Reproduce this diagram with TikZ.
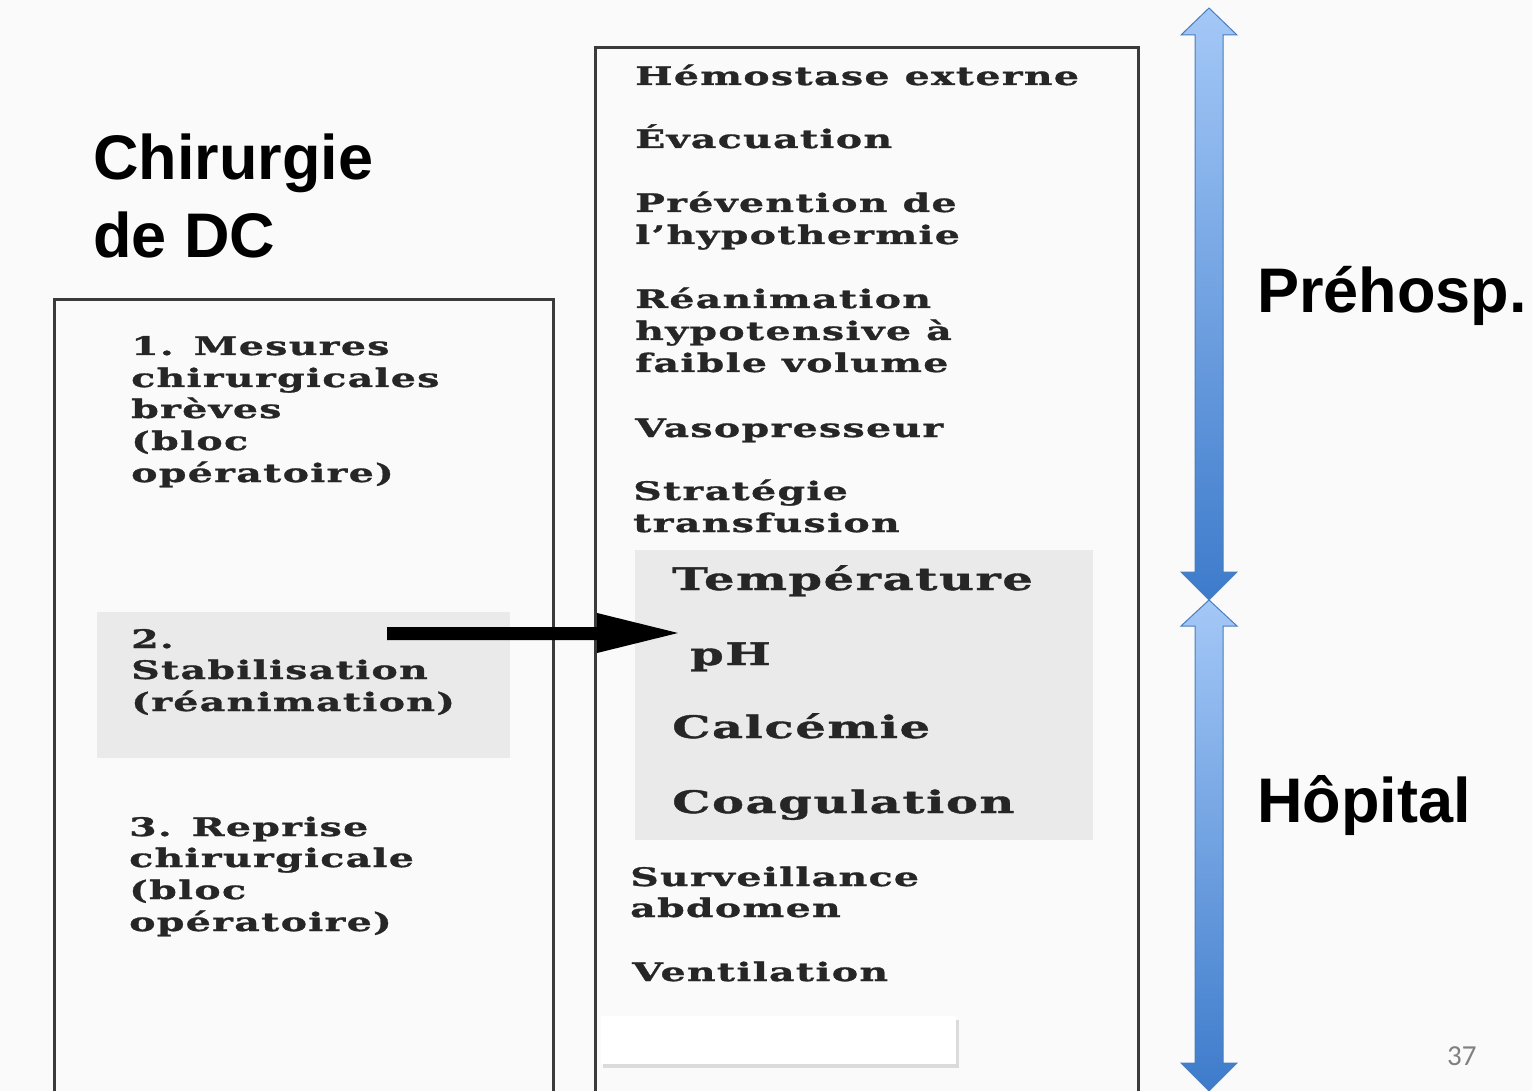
\documentclass[tikz,border=0pt]{standalone}
\usepackage{fontspec}
\setmainfont{Liberation Sans}
\newfontfamily\hdfont{Liberation Sans}
\newfontfamily\numfont{Carlito}
\newfontfamily\tfont[FakeStretch=1.55,LetterSpace=5,FakeBold=1.2]{DejaVu Serif Bold}
\usetikzlibrary{shadows}
\definecolor{boxline}{HTML}{3A3A3A}
\definecolor{panelgray}{HTML}{EAEAEA}
\definecolor{bgcol}{HTML}{FAFAFA}
\definecolor{bluetop}{HTML}{A4C8F7}
\definecolor{bluebot}{HTML}{3D7BCB}
\definecolor{blueedge}{HTML}{4A7EBB}
\tikzset{
  txt/.style={anchor=base west, inner sep=0pt, font=\tfont\fontsize{25.5}{32}\selectfont, text=black!85},
  bigtxt/.style={anchor=base west, inner sep=0pt, font=\tfont\fontsize{31}{40}\selectfont, text=black!85},
  head/.style={anchor=base west, inner sep=0pt, font=\hdfont\bfseries\fontsize{63}{78}\selectfont},
  boxframe/.style={draw=boxline, line width=3pt},
  bluearrow/.style={top color=bluetop, bottom color=bluebot, draw=blueedge, line width=1pt},
}
\begin{document}
\begin{tikzpicture}[x=1pt,y=-1pt]
\useasboundingbox (0,0) rectangle (1532,1091);
\clip (0,0) rectangle (1532,1091);
\fill[bgcol] (0,0) rectangle (1532,1091);
% panels
\fill[panelgray] (97,612) rectangle (510,758);
\fill[panelgray] (635,550) rectangle (1093,840);
% boxes
\draw[boxframe] (54,1100) -- (54,300) -- (553,300) -- (553,1100);
\draw[boxframe] (595,1100) -- (595,48) -- (1138,48) -- (1138,1100);
% white rectangle
\fill[black, opacity=0.12] (603,1020) rectangle (959,1068);
\node[fill=white, minimum width=355pt, minimum height=48pt, inner sep=0pt, anchor=north west] (blank) at (601,1016) {};
% headings
\node[head] (chir) at (93,180) {Chirurgie};
\node[head] (dedc) at (93,258) {de DC};
\node[head] (prehosp) at (1257,313) {Préhosp.};
\node[head] (hopital) at (1257,822) {Hôpital};
\node[anchor=base west, inner sep=0pt, font=\numfont\fontsize{29}{30}\selectfont, text=black!50] (pnum) at (1447,1065) {37};
% left texts
\node[txt] (l1a) at (131,355) {1. Mesures};
\node[txt] (l1b) at (131,387) {chirurgicales};
\node[txt] (l1c) at (131,418) {brèves};
\node[txt] (l1d) at (131,450) {(bloc};
\node[txt] (l1e) at (131,482) {opératoire)};
\node[txt] (l2a) at (131,648) {2.};
\node[txt] (l2b) at (131,679) {Stabilisation};
\node[txt] (l2c) at (131,711) {(réanimation)};
\node[txt] (l3a) at (129,836) {3. Reprise};
\node[txt] (l3b) at (129,867) {chirurgicale};
\node[txt] (l3c) at (129,899) {(bloc};
\node[txt] (l3d) at (129,931) {opératoire)};
% right texts
\node[txt] (r1) at (635,85) {Hémostase externe};
\node[txt] (r2) at (635,148) {Évacuation};
\node[txt] (r3a) at (635,212) {Prévention de};
\node[txt] (r3b) at (635,244) {l’hypothermie};
\node[txt] (r4a) at (635,308) {Réanimation};
\node[txt] (r4b) at (635,340) {hypotensive à};
\node[txt] (r4c) at (635,372) {faible volume};
\node[txt] (r5) at (635,437) {Vasopresseur};
\node[txt] (r6a) at (633,500) {Stratégie};
\node[txt] (r6b) at (633,532) {transfusion};
\node[bigtxt] (temp) at (672,590) {Température};
\node[bigtxt] (ph) at (690,665) {pH};
\node[bigtxt] (calc) at (672,738) {Calcémie};
\node[bigtxt] (coag) at (672,813) {Coagulation};
\node[txt] (r8a) at (630,886) {Surveillance};
\node[txt] (r8b) at (630,917) {abdomen};
\node[txt] (r9) at (632,981) {Ventilation};
% black arrow
\coordinate (astart) at (387,633);
\coordinate (atip) at (678,633);
\fill[black] (astart |- 0,627) -- (597,627) -- (597,613) -- (atip) -- (597,653) -- (597,640) -- (astart |- 0,640) -- cycle;
% blue arrows
\path[bluearrow] (1209,8) -- (1237,35) -- (1223,35) -- (1223,572) -- (1237,572) -- (1209,600)
  -- (1181,572) -- (1195,572) -- (1195,35) -- (1181,35) -- cycle;
\path[bluearrow] (1209,600) -- (1237,626) -- (1223,626) -- (1223,1063) -- (1237,1063) -- (1209,1091)
  -- (1181,1063) -- (1195,1063) -- (1195,626) -- (1181,626) -- cycle;
\end{tikzpicture}
\end{document}
